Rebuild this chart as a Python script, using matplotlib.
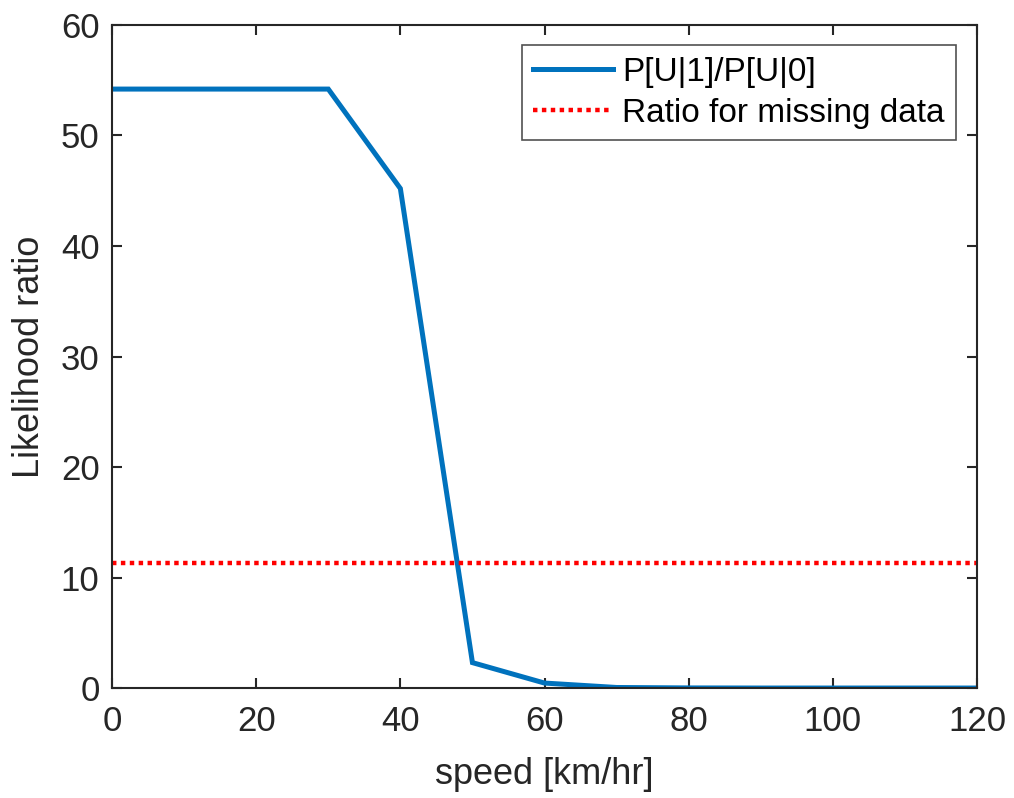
import matplotlib.pyplot as plt

plt.rcParams['font.family'] = ['Liberation Sans', 'DejaVu Sans']

speed = [0, 10, 20, 30, 40, 50, 60, 70, 80, 90, 100, 110, 120]
ratio = [54.2, 54.2, 54.2, 54.2, 45.2, 2.3, 0.45, 0.05, 0.01, 0, 0, 0, 0]
missing_ratio = 11.3

xticks = [0, 20, 40, 60, 80, 100, 120]
yticks = [0, 10, 20, 30, 40, 50, 60]

txt = '#262626'

fig = plt.figure(figsize=(10.14, 7.98), dpi=100)
ax = fig.add_axes([0.1105, 0.1378, 0.853, 0.8309])

ax.plot(speed, ratio, color='#0072BD', lw=3.6, label='P[U|1]/P[U|0]', solid_joinstyle='miter')
ax.axhline(missing_ratio, color='#FF0000', lw=3.2, ls=(0, (1, 1)), label='Ratio for missing data')

ax.set_xlim(0, 120)
ax.set_ylim(0, 60)
ax.set_xticks(xticks)
ax.set_yticks(yticks)
ax.tick_params(direction='in', length=7, width=1.5, colors=txt, labelsize=25,
               top=True, right=True)
ax.tick_params(axis='x', pad=12)
ax.tick_params(axis='y', pad=9)
for s in ax.spines.values():
    s.set_linewidth(1.5)
    s.set_color(txt)

ax.set_xlabel('speed [km/hr]', fontsize=26, color=txt, labelpad=14)
ax.set_ylabel('Likelihood ratio', fontsize=26, color=txt, labelpad=10)

leg = ax.legend(loc='upper right', fontsize=24, frameon=True, fancybox=False,
                edgecolor=txt, handlelength=2.4, handletextpad=0.25,
                borderpad=0.35, labelspacing=0.3, borderaxespad=0,
                bbox_to_anchor=(0.9757, 0.9698))
leg.get_frame().set_linewidth(1.2)

fig.savefig('out.png', dpi=100)
